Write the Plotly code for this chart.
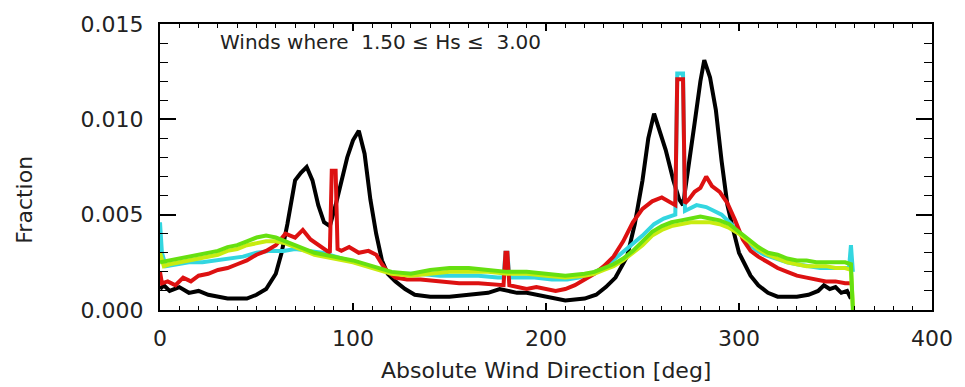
import plotly.graph_objects as go

# ---------------- data ----------------
black_x = [0, 2, 5, 10, 15, 20, 25, 30, 35, 40, 45, 50, 55, 60, 63, 66, 70, 73, 76, 79, 82, 85, 88, 91, 94, 97,
           100, 103, 106, 109, 112, 115, 118, 122, 127, 132, 140, 150, 160, 170, 176, 180, 185, 190, 200, 210,
           220, 226, 231, 236, 242, 246, 250, 253, 256, 259, 262, 266, 269, 271, 274, 277, 280, 282, 285, 288,
           291, 294, 297, 300, 303, 306, 310, 315, 320, 330, 336, 341, 344, 347, 350, 353, 356, 358]
black_y = [0.0011, 0.0013, 0.0010, 0.0012, 0.0009, 0.0010, 0.0008, 0.0007, 0.0006, 0.0006, 0.0006, 0.0008,
           0.0011, 0.0019, 0.0030, 0.0045, 0.0068, 0.0072, 0.0075, 0.0068, 0.0055, 0.0046, 0.0044, 0.0055,
           0.0068, 0.0080, 0.0089, 0.0094, 0.0082, 0.0058, 0.0040, 0.0026, 0.0019, 0.0015, 0.0011, 0.0008,
           0.0007, 0.0007, 0.0008, 0.0009, 0.0011, 0.0010, 0.0009, 0.0009, 0.0007, 0.0005, 0.0006, 0.0008,
           0.0012, 0.0017, 0.0028, 0.0045, 0.0068, 0.0090, 0.0103, 0.0094, 0.0084, 0.0068, 0.0058, 0.0055,
           0.0075, 0.0098, 0.0120, 0.0131, 0.0122, 0.0105, 0.0078, 0.0055, 0.0042, 0.0030, 0.0024, 0.0018,
           0.0013, 0.0009, 0.0007, 0.0007, 0.0008, 0.0010, 0.0013, 0.0011, 0.0012, 0.0009, 0.0010, 0.0006]

cyan_x = [0, 1, 3, 8, 15, 22, 29, 36, 43, 50, 57, 64, 70, 77, 84, 91, 98, 104, 111, 118, 125, 134, 145, 155,
          165, 175, 178, 179, 180, 181, 185, 194, 203, 211, 217, 223, 230, 236, 243, 250, 256, 261, 267, 268,
          271, 272, 274, 278, 283, 287, 291, 295, 299, 303, 308, 313, 319, 325, 330, 336, 342, 348, 353, 357,
          358, 359]
cyan_y = [0.0046, 0.0030, 0.0023, 0.0024, 0.0025, 0.0025, 0.0026, 0.0027, 0.0028, 0.0030, 0.0031, 0.0031,
          0.0032, 0.0031, 0.0030, 0.0028, 0.0026, 0.0024, 0.0022, 0.0020, 0.0019, 0.0019, 0.0018, 0.0018,
          0.0018, 0.0017, 0.0017, 0.0030, 0.0030, 0.0017, 0.0017, 0.0017, 0.0016, 0.0016, 0.0017, 0.0019,
          0.0022, 0.0027, 0.0033, 0.0039, 0.0045, 0.0048, 0.0050, 0.0124, 0.0124, 0.0052, 0.0053, 0.0055,
          0.0054, 0.0052, 0.0050, 0.0046, 0.0042, 0.0037, 0.0032, 0.0029, 0.0027, 0.0025, 0.0024, 0.0023,
          0.0022, 0.0022, 0.0022, 0.0022, 0.0034, 0.0020]

red_x = [0, 1, 4, 8, 12, 16, 20, 25, 30, 35, 40, 45, 50, 55, 60, 65, 70, 74, 78, 82, 86, 88, 89, 91, 92, 94,
         98, 103, 108, 112, 115, 118, 122, 128, 135, 145, 155, 165, 175, 178, 179, 180, 181, 185, 190, 195,
         200, 205, 210, 215, 220, 225, 230, 235, 240, 245, 250, 255, 260, 264, 267, 268, 271, 272, 274, 277,
         280, 283, 286, 290, 294, 298, 302, 306, 310, 315, 320, 325, 330, 335, 340, 345, 350, 355, 358]
red_y = [0.0020, 0.0014, 0.0015, 0.0013, 0.0017, 0.0015, 0.0018, 0.0019, 0.0021, 0.0022, 0.0024, 0.0026,
         0.0029, 0.0031, 0.0034, 0.0040, 0.0038, 0.0042, 0.0037, 0.0034, 0.0031, 0.0030, 0.0073, 0.0073,
         0.0032, 0.0031, 0.0033, 0.0030, 0.0031, 0.0029, 0.0024, 0.0020, 0.0017, 0.0016, 0.0016, 0.0015,
         0.0014, 0.0014, 0.0013, 0.0013, 0.0030, 0.0030, 0.0013, 0.0012, 0.0011, 0.0012, 0.0011, 0.0010,
         0.0011, 0.0013, 0.0016, 0.0019, 0.0023, 0.0028, 0.0036, 0.0046, 0.0053, 0.0057, 0.0059, 0.0057,
         0.0055, 0.0121, 0.0121, 0.0056, 0.0058, 0.0062, 0.0064, 0.0070, 0.0065, 0.0062, 0.0056, 0.0047,
         0.0037, 0.0031, 0.0028, 0.0025, 0.0022, 0.0020, 0.0018, 0.0017, 0.0016, 0.0015, 0.0015, 0.0014,
         0.0014]

yellow_x = [0, 2, 5, 10, 15, 20, 25, 30, 35, 40, 45, 50, 55, 60, 65, 70, 75, 80, 90, 100, 110, 120, 130, 140,
            150, 160, 170, 180, 190, 200, 210, 220, 225, 230, 235, 240, 245, 250, 255, 260, 265, 270, 275, 280,
            285, 290, 295, 300, 305, 310, 315, 320, 325, 330, 335, 340, 345, 350, 355, 358, 359]
yellow_y = [0.0030, 0.0023, 0.0024, 0.0025, 0.0026, 0.0027, 0.0028, 0.0029, 0.0031, 0.0032, 0.0034, 0.0035,
            0.0036, 0.0036, 0.0035, 0.0033, 0.0031, 0.0029, 0.0027, 0.0025, 0.0022, 0.0019, 0.0018, 0.0019,
            0.0020, 0.0020, 0.0020, 0.0019, 0.0019, 0.0018, 0.0017, 0.0018, 0.0019, 0.0021, 0.0023, 0.0026,
            0.0030, 0.0034, 0.0039, 0.0042, 0.0044, 0.0045, 0.0046, 0.0046, 0.0046, 0.0045, 0.0043, 0.0040,
            0.0036, 0.0032, 0.0029, 0.0027, 0.0025, 0.0024, 0.0023, 0.0023, 0.0023, 0.0022, 0.0022, 0.0021,
            0.0002]

green_x = [0, 5, 10, 15, 20, 25, 30, 35, 40, 45, 50, 55, 60, 65, 70, 75, 80, 90, 100, 110, 120, 130, 140, 150,
           160, 170, 180, 190, 200, 210, 220, 225, 230, 235, 240, 245, 250, 255, 260, 265, 270, 275, 280, 285,
           290, 295, 300, 305, 310, 315, 320, 325, 330, 335, 340, 345, 350, 355, 358, 359]
green_y = [0.0025, 0.0026, 0.0027, 0.0028, 0.0029, 0.0030, 0.0031, 0.0033, 0.0034, 0.0036, 0.0038, 0.0039,
           0.0038, 0.0036, 0.0034, 0.0032, 0.0030, 0.0028, 0.0026, 0.0023, 0.0020, 0.0019, 0.0021, 0.0022,
           0.0022, 0.0021, 0.0020, 0.0020, 0.0019, 0.0018, 0.0019, 0.0020, 0.0022, 0.0024, 0.0027, 0.0031,
           0.0036, 0.0041, 0.0044, 0.0046, 0.0047, 0.0048, 0.0049, 0.0048, 0.0047, 0.0045, 0.0041, 0.0037,
           0.0033, 0.0030, 0.0029, 0.0027, 0.0026, 0.0026, 0.0025, 0.0025, 0.0025, 0.0025, 0.0024, 0.0000]

x_tickvals = [0, 100, 200, 300, 400]
y_tickvals = [0.000, 0.005, 0.010, 0.015]

title_text = "Winds where\u00a0\u00a01.50 \u2264 Hs \u2264\u00a0\u00a03.00"
x_title = "Absolute Wind Direction [deg]"
y_title = "Fraction"

# ---------------- figure ----------------
series = [
    (black_x, black_y, "#000000"),
    (cyan_x, cyan_y, "#33d6e0"),
    (red_x, red_y, "#dd1111"),
    (yellow_x, yellow_y, "#c8ec10"),
    (green_x, green_y, "#66e010"),
]

fig = go.Figure()
for xs, ys, col in series:
    fig.add_trace(go.Scatter(x=xs, y=ys, mode="lines",
                             line=dict(color=col, width=4),
                             showlegend=False, hoverinfo="skip"))

FONT = "DejaVu Sans"
fig.update_layout(
    width=965, height=387,
    margin=dict(l=160, r=27, t=12, b=77),
    paper_bgcolor="white", plot_bgcolor="white",
    font=dict(family=FONT, size=22, color="#222222"),
    xaxis=dict(range=[0, 400], tickvals=x_tickvals, ticktext=[str(v) for v in x_tickvals],
               ticks="inside", ticklen=7, tickwidth=1.5, tickcolor="black",
               minor=dict(dtick=10, ticks="inside", ticklen=4, tickwidth=1, tickcolor="black"),
               showline=True, linecolor="black", linewidth=2, mirror="allticks",
               showgrid=False, zeroline=False,
               tickfont=dict(size=22), ticklabelstandoff=8),
    yaxis=dict(range=[0, 0.015], tickvals=y_tickvals, tickformat=".3f",
               ticks="inside", ticklen=16, tickwidth=1.5, tickcolor="black",
               minor=dict(dtick=0.001, ticks="inside", ticklen=8, tickwidth=1, tickcolor="black"),
               showline=True, linecolor="black", linewidth=2, mirror="allticks",
               showgrid=False, zeroline=False,
               tickfont=dict(size=22), ticklabelstandoff=10),
    annotations=[
        dict(text=title_text, xref="paper", yref="paper", x=(218 - 160) / 778, y=(310 - 31) / 298,
             xanchor="left", yanchor="middle", showarrow=False, font=dict(size=20, color="#222222")),
        dict(text=x_title, xref="paper", yref="paper", x=0.5, y=-(373 - 310) / 298,
             xanchor="center", yanchor="middle", showarrow=False, font=dict(size=22, color="#222222")),
        dict(text=y_title, xref="paper", yref="paper", x=-(160 - 24) / 778, y=(310 - 195) / 298,
             xanchor="center", yanchor="middle", textangle=-90, showarrow=False,
             font=dict(size=22, color="#222222")),
    ],
)

fig.write_html("out.html")
